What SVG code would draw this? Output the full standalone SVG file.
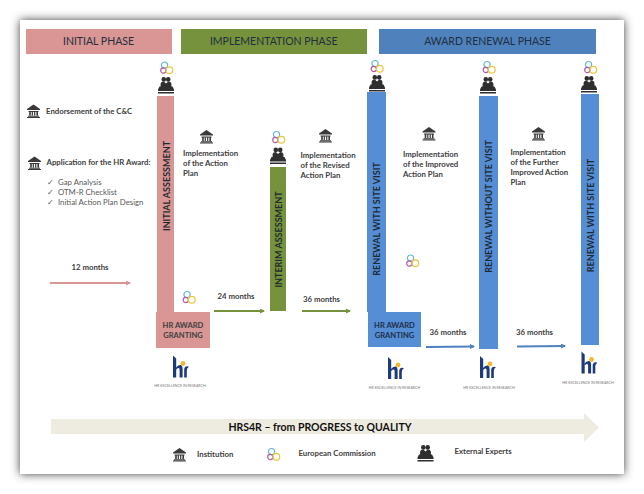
<svg xmlns="http://www.w3.org/2000/svg" xmlns:xlink="http://www.w3.org/1999/xlink" width="644" height="494" viewBox="0 0 644 494">
<style>
text{font-family:Lato,"Open Sans","Liberation Sans",sans-serif;fill:#404040;font-weight:700;font-size:7.800px}
.ph{font-size:10.500px;font-weight:400;fill:#1f2f3f;text-anchor:middle}
.bar{font-size:9px;fill:#1f2a30;font-weight:700;text-anchor:middle}
.box{font-size:7.600px;text-anchor:middle;font-weight:700}
.li{font-weight:400;fill:#595959}
.mo{text-anchor:middle}
.ln{fill:none;stroke-width:1.8}
.pink{fill:#D99694}.green{fill:#76923C}.blue{fill:#4F81BD}.lblue{fill:#558ED5}
.lg{fill:none;stroke-width:1.2}
.tiny{font-size:3.600px;font-weight:400;fill:#777;text-anchor:middle}
</style>
<defs>
<filter id="sh" x="-10%" y="-10%" width="120%" height="120%"><feGaussianBlur stdDeviation="5"/></filter>
<marker id="mp" markerWidth="5" markerHeight="5" refX="4" refY="2.5" orient="auto" markerUnits="userSpaceOnUse"><path d="M0 0L5 2.5L0 5z" fill="#D99694"/></marker>
<marker id="mg" markerWidth="5" markerHeight="5" refX="4" refY="2.5" orient="auto" markerUnits="userSpaceOnUse"><path d="M0 0L5 2.5L0 5z" fill="#76923C"/></marker>
<marker id="mb" markerWidth="5" markerHeight="5" refX="4" refY="2.5" orient="auto" markerUnits="userSpaceOnUse"><path d="M0 0L5 2.5L0 5z" fill="#4F81BD"/></marker>
<g id="bank"><path d="M0 4.500L6.500 0L13 4.500V5.500H0z" fill="#3a3a3a"/><path d="M1.500 6.500h10v1h-10zM2.200 7.500h1.600v3.600h-1.600zM4.700 7.500h1.200v3.600h-1.200zM7.100 7.500h1.200v3.600h-1.200zM9.400 7.500h1.600v3.600h-1.600zM1 11.200h11v1h-11zM0 12.400h13v1H0z" fill="#3a3a3a"/></g>
<g id="ec"><circle cx="5" cy="3.600" r="3.100" class="lg" stroke="#62b6d8"/><circle cx="3.800" cy="9" r="2.600" class="lg" stroke="#b55aa6"/><circle cx="9.800" cy="8.800" r="3.400" class="lg" stroke="#e8c63a"/></g>
<g id="ex" fill="#2e2e2e"><circle cx="5.800" cy="2.400" r="2.300"/><circle cx="10.200" cy="2.400" r="2.300"/><path d="M2.600 10V6.500Q3 4.600 5.800 4.600L8 6.500L10.200 4.600Q13 4.600 13.400 6.500V10z"/><path d="M1.500 9.500H14.500L16 12.500V14H0V12.500z"/><rect x="0" y="15" width="16" height="1.500"/></g>
<g id="hrlogo"><path d="M0 0L3.200 3V22H0z" fill="#1f3a7a"/><path d="M3 12Q5 9 8 9.500Q9.600 10 9.600 13V22H6.600V14Q6.600 12 5 12.500L3 14z" fill="#1f3a7a"/><path d="M11.200 22V14Q11.200 11 14 10.800Q15.500 11 15.800 11.600Q13.800 12.200 13.800 15V22z" fill="#1f3a7a"/><circle cx="10" cy="8" r="2.400" fill="#f2b92e"/></g>
</defs>
<rect width="644" height="494" fill="#fff"/>
<rect x="20" y="20" width="604" height="454" fill="#3c3c3c" filter="url(#sh)"/>
<rect x="20" y="20" width="604" height="454" fill="#fff"/>

<g id="phase-initial"><rect x="26" y="29" width="146" height="25" class="pink"/><text class="ph" x="98.500" y="45">INITIAL PHASE</text></g>
<g id="phase-implementation"><rect x="181" y="29" width="186" height="25" class="green"/><text class="ph" x="273.700" y="45">IMPLEMENTATION PHASE</text></g>
<g id="phase-renewal"><rect x="379" y="29" width="217" height="25" class="blue"/><text class="ph" x="487.500" y="45">AWARD RENEWAL PHASE</text></g>

<g id="endorsement"><use xlink:href="#bank" x="27" y="104.500"/><text x="46" y="113.500">Endorsement of the C&amp;C</text></g>
<g id="application"><use xlink:href="#bank" x="28" y="156.500"/><text x="46.500" y="165">Application for the HR Award:</text>
<text class="li" x="47" y="185">✓</text><text class="li" x="58" y="185">Gap Analysis</text>
<text class="li" x="47" y="195">✓</text><text class="li" x="58" y="195">OTM-R Checklist</text>
<text class="li" x="47" y="205">✓</text><text class="li" x="58" y="205">Initial Action Plan Design</text></g>

<g id="initial-assessment"><use xlink:href="#ec" x="159.500" y="61.500"/><use xlink:href="#ex" x="158" y="77"/><rect x="157" y="96" width="17" height="216" class="pink"/><text class="bar" transform="translate(169.500,186) rotate(-90)">INITIAL ASSESSMENT</text></g>
<g id="hr-award-1"><rect x="156" y="312" width="54" height="36" class="pink"/><text class="box" x="183" y="328">HR AWARD</text><text class="box" x="183" y="338">GRANTING</text><use xlink:href="#hrlogo" x="173" y="355.500"/><text class="tiny" x="180" y="387">HR EXCELLENCE IN RESEARCH</text></g>
<use id="ec-award-1" xlink:href="#ec" x="182" y="291"/>

<g id="impl-1"><use xlink:href="#bank" x="200" y="130"/><text x="183" y="156">Implementation</text><text x="183" y="166">of the Action</text><text x="183" y="176">Plan</text></g>

<g id="interim-assessment"><use xlink:href="#ec" x="271.500" y="131"/><use xlink:href="#ex" x="270" y="147.500"/><rect x="270" y="167" width="16" height="144" class="green"/><text class="bar" transform="translate(281.500,239.500) rotate(-90)">INTERIM ASSESSMENT</text></g>

<g id="impl-2"><use xlink:href="#bank" x="319" y="129"/><text x="300.500" y="158">Implementation</text><text x="300.500" y="168">of the Revised</text><text x="300.500" y="178">Action Plan</text></g>

<g id="renewal-1"><use xlink:href="#ec" x="370" y="60"/><use xlink:href="#ex" x="369" y="75"/><rect x="367" y="92" width="19" height="220" class="lblue"/><text class="bar" transform="translate(380,219) rotate(-90)">RENEWAL WITH SITE VISIT</text></g>
<g id="hr-award-2"><rect x="368" y="312" width="53" height="35" class="lblue"/><text class="box" style="fill:#1f2f4a" x="394.500" y="327.500">HR AWARD</text><text class="box" style="fill:#1f2f4a" x="394.500" y="337.500">GRANTING</text><use xlink:href="#hrlogo" x="388" y="357"/><text class="tiny" x="394.500" y="389">HR EXCELLENCE IN RESEARCH</text></g>
<use id="ec-award-2" xlink:href="#ec" x="405.500" y="254.500"/>

<g id="impl-3"><use xlink:href="#bank" x="422.500" y="127"/><text x="403" y="157">Implementation</text><text x="403" y="167">of the Improved</text><text x="403" y="177">Action Plan</text></g>

<g id="renewal-2"><use xlink:href="#ec" x="482" y="61"/><use xlink:href="#ex" x="480" y="77"/><rect x="479" y="96" width="19" height="253" class="lblue"/><text class="bar" transform="translate(491.800,206.500) rotate(-90)">RENEWAL WITHOUT SITE VISIT</text><use xlink:href="#hrlogo" x="480" y="356"/><text class="tiny" x="489" y="388.500">HR EXCELLENCE IN RESEARCH</text></g>

<g id="impl-4"><use xlink:href="#bank" x="532" y="127"/><text x="510.500" y="154.500">Implementation</text><text x="510.500" y="164.500">of the Further</text><text x="510.500" y="174.500">Improved Action</text><text x="510.500" y="184.500">Plan</text></g>

<g id="renewal-3"><use xlink:href="#ec" x="583.500" y="61"/><use xlink:href="#ex" x="581" y="76"/><rect x="581" y="94" width="18" height="251" class="lblue"/><text class="bar" transform="translate(593.500,215.500) rotate(-90)">RENEWAL WITH SITE VISIT</text><use xlink:href="#hrlogo" x="581.500" y="351.500"/><text class="tiny" x="588" y="384">HR EXCELLENCE IN RESEARCH</text></g>

<g id="connectors">
<path class="ln" d="M50 283H130" stroke="#D99694" marker-end="url(#mp)"/>
<path class="ln" d="M214 311H264" stroke="#76923C" marker-end="url(#mg)"/>
<path class="ln" d="M302 311H350" stroke="#76923C" marker-end="url(#mg)"/>
<path class="ln" d="M426 347L474 346.500" stroke="#4F81BD" marker-end="url(#mb)"/>
<path class="ln" d="M517 346.500L565 346" stroke="#4F81BD" marker-end="url(#mb)"/>
</g>
<g id="durations">
<text class="mo" x="90" y="270">12 months</text>
<text class="mo" x="236" y="298.500">24 months</text>
<text class="mo" x="321.500" y="301.500">36 months</text>
<text class="mo" x="448" y="334.500">36 months</text>
<text class="mo" x="534.500" y="334.500">36 months</text>
</g>

<g id="progress-arrow"><path d="M51 419H584V413L599 427.500L584 442V434H51z" fill="#EEECE1"/><text x="320" y="431" text-anchor="middle" style="font-size:10.500px;font-weight:700;fill:#111">HRS4R – from PROGRESS to QUALITY</text></g>

<g id="legend">
<use xlink:href="#bank" x="173" y="448"/><text x="197" y="457">Institution</text>
<use xlink:href="#ec" x="266.500" y="448"/><text x="298.500" y="456">European Commission</text>
<use xlink:href="#ex" x="417.500" y="445"/><text x="454.500" y="454">External Experts</text>
</g>
</svg>
